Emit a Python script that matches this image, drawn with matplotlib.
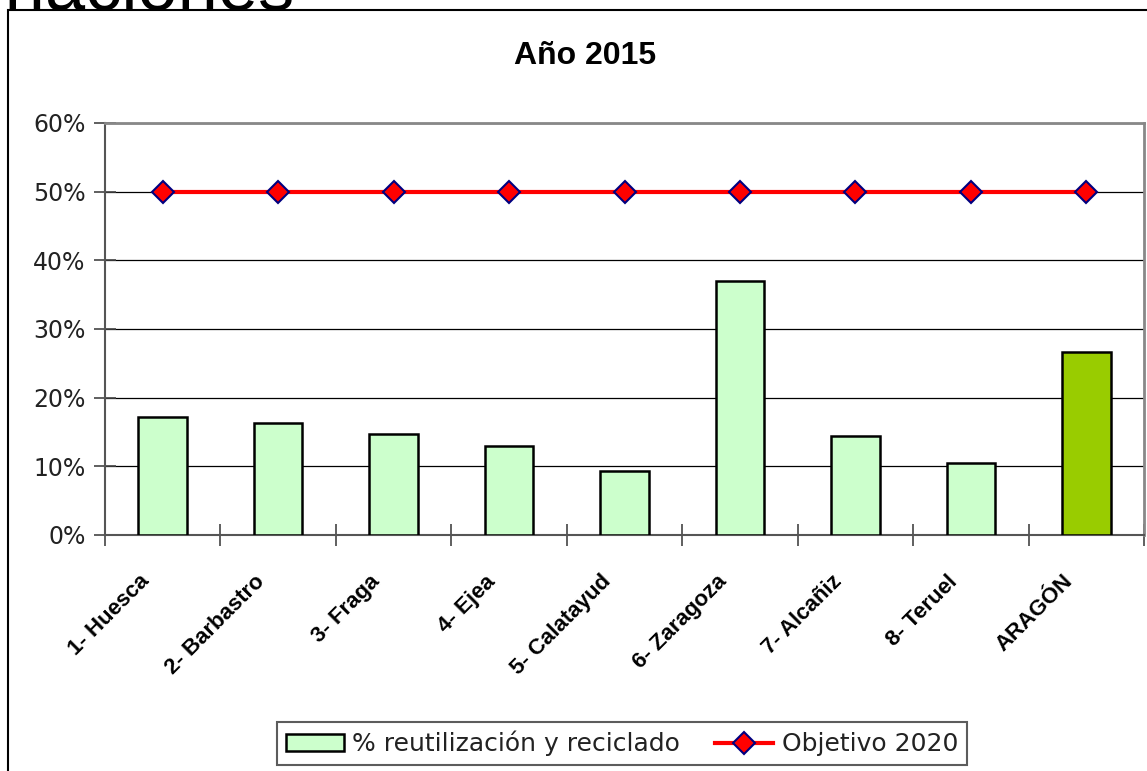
import matplotlib.pyplot as plt
from matplotlib.patches import Rectangle
from matplotlib.transforms import ScaledTranslation
from matplotlib.ticker import PercentFormatter

# datos
categorias = ['1- Huesca', '2- Barbastro', '3- Fraga', '4- Ejea', '5- Calatayud',
              '6- Zaragoza', '7- Alcañiz', '8- Teruel', 'ARAGÓN']
reciclado = [17.2, 16.3, 14.7, 13.0, 9.3, 37.0, 14.4, 10.5, 26.6]
objetivo = [50, 50, 50, 50, 50, 50, 50, 50, 50]
colores = ['#ccffcc'] * 8 + ['#99cc00']

W, H = 1147, 771
fig = plt.figure(figsize=(W / 100, H / 100), dpi=100)

# texto de la diapositiva, cortado arriba
fig.text(295 / W, 1 - 10 / H, 'Asignaciones', ha='right', va='baseline',
         fontsize=52, family='Liberation Sans', color='black', zorder=-2)

# marco del grafico
fig.patches.append(Rectangle((8 / W, -0.2), 1.2, 1 - 10 / H + 0.2,
                             transform=fig.transFigure, facecolor='white',
                             edgecolor='black', linewidth=1.5, zorder=-1))

ax = fig.add_axes([105 / W, 1 - 535 / H, (1144 - 105) / W, (535 - 123) / H])
x = list(range(len(categorias)))

barras = ax.bar(x, reciclado, width=0.42, color=colores, edgecolor='black',
                linewidth=1.8, zorder=3)
linea, = ax.plot(x, objetivo, color='#ff0000', linewidth=3, marker='D', markersize=11,
                 markerfacecolor='#ff0000', markeredgecolor='#000080',
                 markeredgewidth=1.5, zorder=4)

ax.set_xlim(-0.5, len(categorias) - 0.5)
ax.set_ylim(0, 60)
ax.set_yticks(range(0, 61, 10))
ax.yaxis.set_major_formatter(PercentFormatter(decimals=0))
ax.grid(axis='y', color='black', linewidth=0.9, zorder=0)
ax.set_axisbelow(True)

ax.set_xticks([i - 0.5 for i in range(len(categorias) + 1)])
ax.set_xticklabels([])
ax.tick_params(axis='x', direction='inout', length=16, width=1.2, color='#444444')

# etiquetas de categoria giradas
desplaza = ScaledTranslation(-24 / 100, -36 / 100, fig.dpi_scale_trans)
for i, nombre in zip(x, categorias):
    ax.text(i, 0, nombre, transform=ax.get_xaxis_transform() + desplaza,
            rotation=45, ha='right', va='top', rotation_mode='anchor',
            fontsize=16, fontweight='bold', family='Liberation Sans', color='black')

ax.tick_params(axis='y', direction='inout', length=16, width=1.2, color='#444444',
               labelsize=17, pad=6)
for lbl in ax.get_yticklabels():
    lbl.set_family('DejaVu Sans')
    lbl.set_color('#222222')

for s in ['left', 'bottom']:
    ax.spines[s].set_color('#555555')
    ax.spines[s].set_linewidth(1.5)
for s in ['top', 'right']:
    ax.spines[s].set_color('#888888')
    ax.spines[s].set_linewidth(2)

fig.text(585.5 / W, 1 - 64 / H, 'Año 2015', ha='center', va='baseline',
         fontsize=23, fontweight='bold', family='Liberation Sans')

leg = fig.legend([barras, linea], ['% reutilización y reciclado', 'Objetivo 2020'],
                 loc='center', bbox_to_anchor=(622 / W, 1 - 743.5 / H), ncol=2,
                 frameon=True, fancybox=False, shadow=False,
                 prop={'family': 'DejaVu Sans', 'size': 18},
                 handlelength=2.3, handleheight=0.7, handletextpad=0.35,
                 columnspacing=1.4, borderpad=0.35)
leg.get_frame().set_edgecolor('#333333')
leg.get_frame().set_linewidth(1.5)
for t in leg.get_texts():
    t.set_color('#222222')

fig.savefig('out.png', dpi=100)
